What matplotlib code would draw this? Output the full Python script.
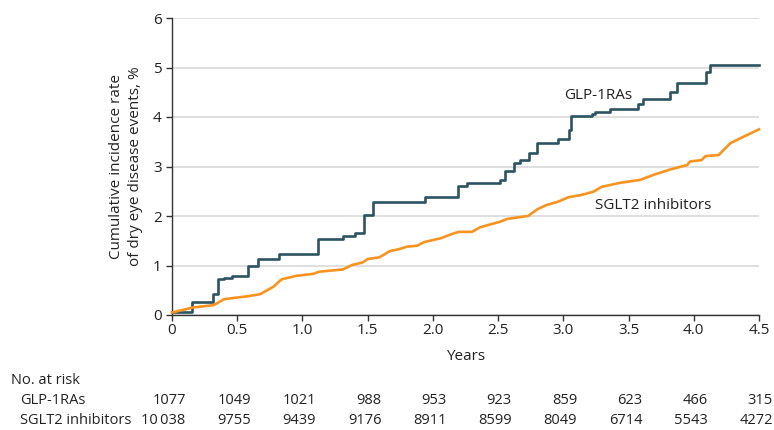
import matplotlib
matplotlib.use("Agg")
import matplotlib.pyplot as plt
import matplotlib.transforms as mtransforms

plt.rcParams['font.family'] = ['Open Sans', 'DejaVu Sans']

# GLP-1RAs: step times (years) and cumulative incidence (%)
glp_t = [0, 0.156, 0.317, 0.355, 0.40, 0.458, 0.585, 0.657, 0.823, 1.12, 1.31,
         1.406, 1.47, 1.544, 1.943, 2.19, 2.26, 2.515, 2.55, 2.62, 2.67, 2.74,
         2.797, 2.96, 3.04, 3.06, 3.22, 3.24, 3.36, 3.576, 3.61, 3.82, 3.87,
         4.09, 4.126, 4.5]
glp_y = [0.07, 0.26, 0.42, 0.72, 0.75, 0.79, 0.99, 1.125, 1.23, 1.535, 1.60,
         1.65, 2.03, 2.28, 2.39, 2.61, 2.67, 2.73, 2.91, 3.08, 3.14, 3.28,
         3.48, 3.55, 3.74, 4.02, 4.06, 4.11, 4.155, 4.26, 4.36, 4.50, 4.68,
         4.915, 5.05, 5.05]

# SGLT2 inhibitors (dense small steps, read as a curve)
sglt_t = [0, 0.158, 0.32, 0.40, 0.49, 0.585, 0.675, 0.777, 0.84, 0.95, 1.08,
          1.13, 1.31, 1.38, 1.46, 1.50, 1.59, 1.67, 1.74, 1.80, 1.88, 1.93,
          2.0, 2.06, 2.15, 2.20, 2.30, 2.36, 2.515, 2.57, 2.70, 2.73, 2.80, 2.87,
          2.96, 3.04, 3.13, 3.23, 3.295, 3.435, 3.59, 3.69, 3.82, 3.95, 3.97,
          4.06, 4.09, 4.19, 4.28, 4.38, 4.5]
sglt_y = [0.05, 0.15, 0.20, 0.32, 0.35, 0.38, 0.42, 0.57, 0.72, 0.79, 0.83,
          0.875, 0.92, 1.01, 1.06, 1.13, 1.165, 1.29, 1.33, 1.38, 1.40, 1.47,
          1.515, 1.55, 1.64, 1.68, 1.68, 1.77, 1.885, 1.94, 1.99, 2.0, 2.135,
          2.22, 2.29, 2.38, 2.42, 2.49, 2.59, 2.67, 2.73, 2.83, 2.94, 3.03,
          3.10, 3.13, 3.21, 3.23, 3.47, 3.60, 3.75]

risk_times = [0, 0.5, 1.0, 1.5, 2.0, 2.5, 3.0, 3.5, 4.0, 4.5]
risk_glp = ['1077', '1049', '1021', '988', '953', '923', '859', '623', '466', '315']
risk_sglt = ['10\u2009038', '9755', '9439', '9176', '8911', '8599', '8049', '6714', '5543', '4272']

glp_col = '#2c5361'
sglt_col = '#f7931e'
txt = '#222222'
fs = 11
fs_tab = 10.5

fig = plt.figure(figsize=(7.74, 4.30), dpi=100)
ax = fig.add_axes([172/774, 1 - 315/430, 587/774, 297/430])

ax.step(glp_t, glp_y, where='post', color=glp_col, lw=1.9, clip_on=False, zorder=3)
ax.plot(sglt_t, sglt_y, color=sglt_col, lw=1.9, clip_on=False, zorder=3)

ax.set_xlim(0, 4.5)
ax.set_ylim(0, 6)
ax.set_xticks(risk_times)
ax.set_xticklabels(['0', '0.5', '1.0', '1.5', '2.0', '2.5', '3.0', '3.5', '4.0', '4.5'])
ax.set_yticks(range(7))
ax.yaxis.grid(True, color='#dcdcdc', lw=1.3)
ax.set_axisbelow(True)
for s in ['top', 'right']:
    ax.spines[s].set_visible(False)
for s in ['left', 'bottom']:
    ax.spines[s].set_color('#333333')
    ax.spines[s].set_linewidth(1.0)
ax.tick_params(axis='both', labelsize=fs, colors='#333333', length=4, width=1.0,
               labelcolor=txt)
ax.tick_params(axis='x', pad=1.5)

ax.set_xlabel('Years', fontsize=fs, color=txt, labelpad=8)
ax.set_ylabel('Cumulative incidence rate\nof dry eye disease events, %', fontsize=fs,
              color=txt, linespacing=1.3)
ax.yaxis.set_label_coords(-0.05, 0.5)

ax.text(3.27, 4.44, 'GLP-1RAs', fontsize=fs, color=txt, ha='center', va='center')
ax.text(3.69, 2.21, 'SGLT2 inhibitors', fontsize=fs, color=txt, ha='center', va='center')

# number at risk table
trans = mtransforms.blended_transform_factory(ax.transData, fig.transFigure)
fig.text(11/774, 1 - 380/430, 'No. at risk', fontsize=fs_tab, color=txt, va='center')
fig.text(20/774, 1 - 400/430, 'GLP-1RAs', fontsize=fs_tab, color=txt, va='center')
fig.text(20/774, 1 - 420/430, 'SGLT2 inhibitors', fontsize=fs_tab, color=txt, va='center')
for t, a, b in zip(risk_times, risk_glp, risk_sglt):
    ax.text(t + 0.105, 1 - 400/430, a, transform=trans, fontsize=fs_tab, color=txt,
            ha='right', va='center', clip_on=False)
    ax.text(t + 0.105, 1 - 420/430, b, transform=trans, fontsize=fs_tab, color=txt,
            ha='right', va='center', clip_on=False)

fig.savefig('out.png', dpi=100)
